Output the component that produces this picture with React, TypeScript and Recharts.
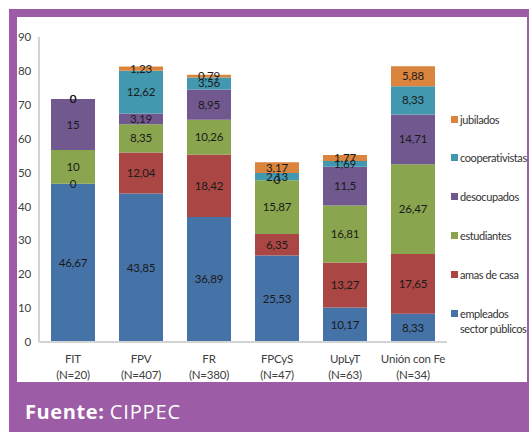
import React from 'react'
import { BarChart, Bar, XAxis, YAxis, LabelList } from 'recharts'

const parties = ['FIT', 'FPV', 'FR', 'FPCyS', 'UpLyT', 'Unión con Fe']
const sampleSizes = ['(N=20)', '(N=407)', '(N=380)', '(N=47)', '(N=63)', '(N=34)']

const empleados = [46.67, 43.85, 36.89, 25.53, 10.17, 8.33]
const amasDeCasa = [0, 12.04, 18.42, 6.35, 13.27, 17.65]
const estudiantes = [10, 8.35, 10.26, 15.87, 16.81, 26.47]
const desocupados = [15, 3.19, 8.95, 0, 11.5, 14.71]
const cooperativistas = [0, 12.62, 3.56, 2.13, 1.69, 8.33]
const jubilados = [0, 1.23, 0.79, 3.17, 1.77, 5.88]

const yTicks = [0, 10, 20, 30, 40, 50, 60, 70, 80, 90]

const series = [
  { key: 'empleados', name: 'empleados sector públicos', color: '#4572a7', values: empleados },
  { key: 'amas', name: 'amas de casa', color: '#aa4643', values: amasDeCasa },
  { key: 'estudiantes', name: 'estudiantes', color: '#89a54e', values: estudiantes },
  { key: 'desocupados', name: 'desocupados', color: '#71588f', values: desocupados },
  { key: 'cooperativistas', name: 'cooperativistas', color: '#4198af', values: cooperativistas },
  { key: 'jubilados', name: 'jubilados', color: '#db843d', values: jubilados },
]

const data = parties.map((p, i) => {
  const row: any = { name: p }
  series.forEach(s => { row[s.key] = s.values[i] })
  return row
})

const FONT = "Lato, 'Liberation Sans', sans-serif"
const TXT: any = { fontFamily: FONT, letterSpacing: -0.2 }
const fmt = (v: any) => String(v).replace('.', ',')

const PartyTick = (props: any) => {
  const { x, y, payload, index } = props
  return (
    <g style={TXT}>
      <text x={x} y={y + 13} textAnchor="middle" fontSize={11.5} fill="#404040">{payload.value}</text>
      <text x={x} y={y + 29} textAnchor="middle" fontSize={11.5} fill="#404040">{sampleSizes[index]}</text>
    </g>
  )
}

const SegmentLabel = (props: any) => {
  const { x, y, width, height, value } = props
  if (value === undefined || value === null) return null
  return (
    <text x={x + width / 2} y={y + height / 2} dy={4} textAnchor="middle" fontSize={11.5} fill="#1a1a1a" style={TXT}>
      {fmt(value)}
    </text>
  )
}

const LegendBox = () => {
  const items = [...series].reverse()
  const tops = [112, 150, 189, 228, 267, 306]
  return (
    <div style={{ position: 'absolute', left: 451, top: 0, width: 78, height: 360, fontSize: 11, color: '#333', fontFamily: FONT, letterSpacing: -0.4 }}>
      {items.map((s, i) => (
        <div key={s.key} style={{ position: 'absolute', left: 0, top: tops[i], display: 'flex', alignItems: 'flex-start', whiteSpace: 'nowrap' }}>
          <span style={{ display: 'inline-block', width: 7, height: 7, background: s.color, marginTop: 4, marginRight: 2, flexShrink: 0 }} />
          <span style={{ lineHeight: '15px' }}>
            {s.key === 'empleados' ? <>empleados<br />sector públicos</> : s.name}
          </span>
        </div>
      ))}
    </div>
  )
}

export default function App() {
  return (
    <div style={{ position: 'absolute', left: 0, top: 0, width: 529, height: 434, background: '#fff', overflow: 'hidden' }}>
      <div style={{ position: 'absolute', left: 9, top: 9, width: 530, height: 423, background: '#9d5ca6' }} />
      <div style={{ position: 'absolute', left: 17, top: 17, width: 510, height: 365, background: '#fff' }} />
      <div style={{ position: 'absolute', left: 17, top: 17 }}>
        <BarChart
          width={430}
          height={365}
          data={data}
          margin={{ top: 20, right: 0, bottom: 0, left: 0 }}
          barCategoryGap={12}
        >
          <XAxis
            dataKey="name"
            tick={<PartyTick />}
            tickLine={false}
            axisLine={{ stroke: '#d4d4d4', strokeWidth: 2 }}
            interval={0}
            height={40}
          />
          <YAxis
            domain={[0, 90]}
            ticks={yTicks}
            width={22}
            tickLine={false}
            tickSize={0}
            tickMargin={8}
            axisLine={{ stroke: '#d4d4d4', strokeWidth: 2 }}
            tick={{ fontSize: 11.5, fill: '#404040', style: TXT }}
          />
          {series.map(s => (
            <Bar key={s.key} dataKey={s.key} name={s.name} stackId="a" fill={s.color} minPointSize={0.01} isAnimationActive={false}>
              <LabelList dataKey={s.key} content={<SegmentLabel />} />
            </Bar>
          ))}
        </BarChart>
      </div>
      <LegendBox />
      <div style={{ position: 'absolute', left: 25, top: 398, color: '#fff', fontFamily: "'Open Sans', sans-serif", fontSize: 20 }}>
        <b style={{ letterSpacing: 0.6 }}>Fuente:</b> <span style={{ letterSpacing: 0.9 }}>CIPPEC</span>
      </div>
    </div>
  )
}
